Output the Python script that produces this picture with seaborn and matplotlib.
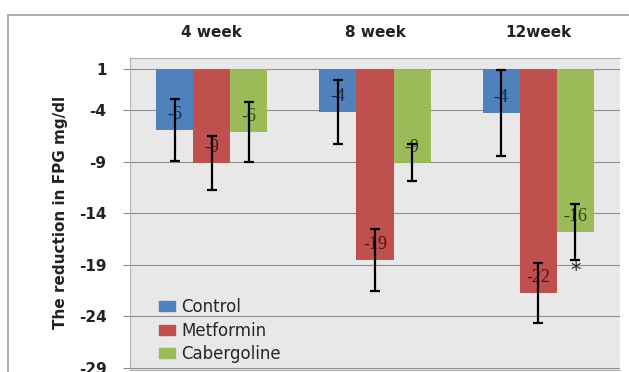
import matplotlib.pyplot as plt
import matplotlib.patches as mpatches
import numpy as np
import pandas as pd
import seaborn as sns

weeks = ["4 week", "8 week", "12week"]
groups = ["Control", "Metformin", "Cabergoline"]
control = [-5.9, -4.2, -4.3]
metformin = [-9.1, -18.5, -21.7]
cabergoline = [-6.1, -9.1, -15.8]
control_err = [3.0, 3.1, 4.2]
metformin_err = [2.6, 3.0, 2.9]
cabergoline_err = [2.9, 1.8, 2.7]
control_lbl = ["-6", "-4", "-4"]
metformin_lbl = ["-9", "-19", "-22"]
cabergoline_lbl = ["-6", "-9", "-16"]
y_ticks = [0, -4, -9, -14, -19, -24, -29]
y_ticklabels = ["1", "-4", "-9", "-14", "-19", "-24", "-29"]

colors = ["#4F81BD", "#C0504D", "#9BBB59"]
label_colors = ["#15294A", "#4A1210", "#2E4214"]

df = pd.DataFrame({
    "week": weeks * 3,
    "group": np.repeat(groups, 3),
    "value": control + metformin + cabergoline,
})

sns.set_theme(style="white")
plt.rcParams["font.family"] = ["DejaVu Sans"]

fig = plt.figure(figsize=(6.29, 3.72), dpi=100)
ax = fig.add_axes([130 / 629, 2 / 372, 490 / 629, 312 / 372])
ax.set_facecolor("#E8E8E8")

sns.barplot(data=df, x="week", y="value", hue="group", order=weeks,
            hue_order=groups, palette=colors, width=0.68, saturation=1,
            errorbar=None, linewidth=0, ax=ax, zorder=2)

errs = [control_err, metformin_err, cabergoline_err]
vals = [control, metformin, cabergoline]
lbls = [control_lbl, metformin_lbl, cabergoline_lbl]
for cont, e, v, l, lc in zip(ax.containers, errs, vals, lbls, label_colors):
    xs = [b.get_x() + b.get_width() / 2 for b in cont.patches]
    for x, val, txt in zip(xs, v, l):
        ax.text(x, val + 1.5, txt, ha="center", va="center", color=lc,
                fontsize=13, family=["Liberation Serif", "DejaVu Serif"],
                zorder=3)
    ax.errorbar(xs, v, yerr=e, fmt="none", ecolor="black", elinewidth=1.6,
                capsize=3.6, capthick=1.6, zorder=4)

# asterisk under the cabergoline 12 week bar
cab_x = ax.containers[2].patches[2]
ax.text(cab_x.get_x() + cab_x.get_width() / 2, -19.6, "*", ha="center",
        va="center", fontsize=15, color="#222222", zorder=5)

ax.set_ylim(-29.2, 1.05)
ax.set_xlim(-0.5, 2.5)
ax.set_yticks(y_ticks, y_ticklabels)
ax.yaxis.grid(True, color="#8E8E8E", lw=0.8)
ax.set_axisbelow(True)
ax.set_xlabel("")
ax.set_ylabel("")

ax.xaxis.tick_top()
ax.tick_params(axis="x", length=0, pad=13, labelsize=11)
ax.tick_params(axis="y", length=5, color="#8E8E8E", width=0.8, pad=12,
               labelsize=11, left=True)
for t in ax.get_xticklabels() + ax.get_yticklabels():
    t.set_fontweight("bold")
    t.set_color("#222222")

for s in ax.spines.values():
    s.set_color("#B0B0B0")
    s.set_linewidth(0.8)
ax.spines["right"].set_visible(False)

handles = [mpatches.Patch(facecolor=c, edgecolor=c) for c in colors]
ax.legend(handles, groups, loc="lower left", bbox_to_anchor=(0.045, 0.0),
          frameon=False, fontsize=12, handlelength=0.95, handleheight=0.55,
          handletextpad=0.4, labelspacing=0.35, borderaxespad=0)

fig.text(60 / 629, 1 - 212 / 372, "The reduction in FPG mg/dl", rotation=90,
         ha="center", va="center", fontsize=11, fontweight="bold",
         family=["Liberation Sans Narrow", "DejaVu Sans"], color="#222222")

fig.add_artist(mpatches.Rectangle((8 / 629, -0.1), 1.0, 1 - 15 / 372 + 0.1,
                                  transform=fig.transFigure, fill=False,
                                  ec="#A0A0A0", lw=1.2))

fig.savefig("out.png", dpi=100)
